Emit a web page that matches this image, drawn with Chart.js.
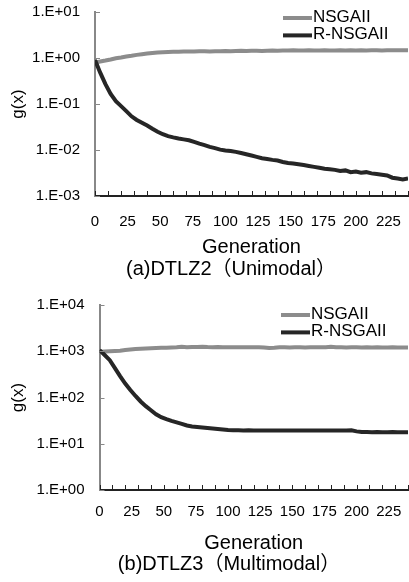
<!DOCTYPE html>
<html lang="en">
<head>
<meta charset="UTF-8">
<title>g(x) vs Generation</title>
<script src="https://cdn.jsdelivr.net/npm/chart.js"></script>
<style>
    body {
        margin: 0;
        background: #fff;
        font-family: 'Liberation Sans', Arial, 'Noto Sans CJK JP', sans-serif;
    }
    .panel {
        position: relative;
        width: 409px;
    }
    .panel canvas {
        display: block;
    }
    .caption {
        position: absolute;
        left: 0;
        text-align: center;
        font-size: 20px;
        line-height: 24px;
        color: #000;
        white-space: nowrap;
    }
</style>
</head>
<body>

<div class="panel" style="height:290px">
    <canvas id="chartA" width="409" height="290"></canvas>
    <div class="caption" style="top:256px;width:462px">(a)DTLZ2（Unimodal）</div>
</div>
<div class="panel" style="height:292px">
    <canvas id="chartB" width="409" height="292"></canvas>
    <div class="caption" style="top:261px;width:458px">(b)DTLZ3（Multimodal）</div>
</div>

<script>
// generations sampled from the plot
const gens = [0, 4, 8, 12, 16, 20, 24, 28, 32, 36,
              40, 44, 48, 52, 56, 60, 64, 68, 72, 76,
              80, 84, 88, 92, 96, 100, 104, 108, 112, 116,
              120, 124, 128, 132, 136, 140, 144, 148, 152, 156,
              160, 164, 168, 172, 176, 180, 184, 188, 192, 196,
              200, 204, 208, 212, 216, 220, 224, 228, 232, 236,
              240];

// (a) DTLZ2
const nsgaA = [0.80, 0.84, 0.88, 0.93, 0.99, 1.03, 1.08, 1.12, 1.17, 1.21,
               1.25, 1.29, 1.32, 1.34, 1.35, 1.36, 1.37, 1.38, 1.39, 1.38,
               1.40, 1.40, 1.39, 1.41, 1.41, 1.42, 1.40, 1.42, 1.43, 1.42,
               1.43, 1.44, 1.42, 1.44, 1.45, 1.44, 1.46, 1.45, 1.47, 1.45,
               1.46, 1.47, 1.45, 1.46, 1.47, 1.46, 1.45, 1.47, 1.46, 1.47,
               1.46, 1.48, 1.46, 1.47, 1.48, 1.46, 1.47, 1.48, 1.47, 1.48,
               1.47];
const rnsgaA = [0.91, 0.48, 0.27, 0.165, 0.115, 0.090, 0.070, 0.054, 0.045, 0.039,
                0.034, 0.029, 0.025, 0.022, 0.020, 0.0188, 0.0178, 0.0170, 0.0163, 0.0150,
                0.0138, 0.0128, 0.0117, 0.0110, 0.0102, 0.0098, 0.0095, 0.0091, 0.0086, 0.0081,
                0.0076, 0.0071, 0.0066, 0.0064, 0.0061, 0.0059, 0.0055, 0.0052, 0.0051, 0.0049,
                0.0047, 0.0045, 0.0043, 0.0041, 0.0039, 0.0038, 0.0037, 0.0035, 0.0036, 0.0033,
                0.0034, 0.0032, 0.0033, 0.0031, 0.0030, 0.0029, 0.0028, 0.0025, 0.0024, 0.0023,
                0.0024];

// (b) DTLZ3
const nsgaB = [980, 985, 995, 1010, 1030, 1060, 1090, 1115, 1130, 1145,
               1160, 1170, 1185, 1195, 1205, 1215, 1245, 1225, 1230, 1235,
               1250, 1230, 1225, 1230, 1220, 1225, 1220, 1225, 1215, 1220,
               1215, 1220, 1210, 1180, 1190, 1215, 1220, 1210, 1215, 1220,
               1210, 1215, 1220, 1215, 1225, 1245, 1220, 1215, 1210, 1215,
               1220, 1210, 1215, 1210, 1215, 1205, 1210, 1215, 1210, 1205,
               1200];
const rnsgaB = [1060, 830, 640, 430, 290, 200, 145, 108, 82, 65,
                53, 43.5, 37.5, 34, 31.2, 29, 27, 24.8, 23.7, 23.1,
                22.5, 21.9, 21.4, 20.8, 20.3, 19.8, 19.6, 19.5, 19.4, 19.5,
                19.4, 19.3, 19.4, 19.3, 19.4, 19.3, 19.4, 19.3, 19.3, 19.4,
                19.3, 19.4, 19.3, 19.3, 19.4, 19.3, 19.3, 19.4, 19.3, 19.5,
                18.5, 17.9, 17.9, 17.8, 17.9, 17.8, 17.8, 17.9, 17.8, 17.8,
                17.8];

// axis ticks and labels
const xLabelTicks = [0, 25, 50, 75, 100, 125, 150, 175, 200, 225];
const xMinorTicks = [0, 10, 20, 30, 40, 50, 60, 70, 80, 90, 100, 110, 120,
                     130, 140, 150, 160, 170, 180, 190, 200, 210, 220, 230, 240];
const yTicksA = [0.001, 0.01, 0.1, 1, 10];
const yLabelsA = ['1.E-03', '1.E-02', '1.E-01', '1.E+00', '1.E+01'];
const yTicksB = [1, 10, 100, 1000, 10000];
const yLabelsB = ['1.E+00', '1.E+01', '1.E+02', '1.E+03', '1.E+04'];

Chart.defaults.font.family = "'Liberation Sans', Arial, sans-serif";
Chart.defaults.color = '#000';

// inside tick marks + legend in the top right corner
const axisMarks = {
    id: 'axisMarks',
    afterDraw(chart, args, opts) {
        const { ctx, chartArea, scales } = chart;
        ctx.save();
        ctx.lineWidth = 1;
        ctx.strokeStyle = '#222';
        xMinorTicks.forEach(v => {
            const px = Math.round(scales.x.getPixelForValue(v)) + 0.5;
            ctx.beginPath();
            ctx.moveTo(px, chartArea.bottom);
            ctx.lineTo(px, chartArea.bottom - 5);
            ctx.stroke();
        });
        ctx.strokeStyle = '#888';
        opts.yTicks.forEach(v => {
            const py = Math.round(scales.y.getPixelForValue(v)) + 0.5;
            ctx.beginPath();
            ctx.moveTo(chartArea.left, py);
            ctx.lineTo(chartArea.left + 5, py);
            ctx.stroke();
        });

        const lx = chartArea.right + opts.legendDx;
        let ly = chartArea.top + opts.legendDy;
        ctx.font = "17px 'Liberation Sans', Arial, sans-serif";
        ctx.textBaseline = 'middle';
        chart.data.datasets.forEach(ds => {
            ctx.strokeStyle = ds.borderColor;
            ctx.lineWidth = 4;
            ctx.beginPath();
            ctx.moveTo(lx, ly);
            ctx.lineTo(lx + 29, ly);
            ctx.stroke();
            ctx.fillStyle = '#000';
            ctx.fillText(ds.label, lx + 30, ly - 1);
            ly += 17.4;
        });
        ctx.restore();
    }
};

function makeChart(id, cfg) {
    return new Chart(document.getElementById(id), {
        type: 'line',
        data: {
            datasets: [
                {
                    label: 'NSGAII',
                    data: gens.map((g, i) => ({ x: g, y: cfg.nsga[i] })),
                    borderColor: '#8c8c8c',
                    borderWidth: 4,
                    pointRadius: 0,
                    order: 1
                },
                {
                    label: 'R-NSGAII',
                    data: gens.map((g, i) => ({ x: g, y: cfg.rnsga[i] })),
                    borderColor: '#262626',
                    borderWidth: 4,
                    pointRadius: 0,
                    order: 0
                }
            ]
        },
        options: {
            responsive: false,
            animation: false,
            layout: { padding: cfg.padding, autoPadding: false },
            scales: {
                x: {
                    type: 'linear',
                    min: 0,
                    max: 240,
                    afterBuildTicks: s => { s.ticks = xLabelTicks.map(v => ({ value: v })); },
                    afterFit: s => {
                        s.height = cfg.xHeight;
                        s.paddingLeft = 0;
                        s.paddingRight = 0;
                    },
                    grid: { display: false, drawTicks: false },
                    border: { color: '#222', width: 2 },
                    ticks: {
                        autoSkip: false,
                        maxRotation: 0,
                        padding: cfg.xPad,
                        font: { size: 15 },
                        callback: v => String(v)
                    },
                    title: {
                        display: true,
                        text: 'Generation',
                        font: { size: 20 },
                        padding: { top: 0, bottom: 0 }
                    }
                },
                y: {
                    type: 'logarithmic',
                    min: cfg.yTicks[0],
                    max: cfg.yTicks[cfg.yTicks.length - 1],
                    afterBuildTicks: s => { s.ticks = cfg.yTicks.map(v => ({ value: v })); },
                    afterFit: s => {
                        s.width = cfg.yWidth;
                        s.paddingTop = 0;
                        s.paddingBottom = 0;
                    },
                    grid: { display: false, drawTicks: false },
                    border: { color: '#888', width: 2 },
                    ticks: {
                        padding: 15,
                        font: { size: 15 },
                        callback: v => cfg.yLabels[cfg.yTicks.indexOf(v)]
                    },
                    title: {
                        display: true,
                        text: 'g(x)',
                        font: { size: 17 },
                        padding: { top: 8, bottom: 0 }
                    }
                }
            },
            plugins: {
                legend: { display: false },
                tooltip: { enabled: false },
                axisMarks: { yTicks: cfg.yTicks, legendDx: cfg.legendDx, legendDy: cfg.legendDy }
            }
        },
        plugins: [axisMarks]
    });
}

makeChart('chartA', {
    nsga: nsgaA, rnsga: rnsgaA,
    yTicks: yTicksA, yLabels: yLabelsA,
    yWidth: 95, xPad: 17, xHeight: 63,
    padding: { top: 12, right: 1, bottom: 31, left: 0 },
    legendDx: -125, legendDy: 6
});

makeChart('chartB', {
    nsga: nsgaB, rnsga: rnsgaB,
    yTicks: yTicksB, yLabels: yLabelsB,
    yWidth: 99.5, xPad: 13, xHeight: 65,
    padding: { top: 15, right: 1, bottom: 27, left: 0 },
    legendDx: -127, legendDy: 10
});
</script>

</body>
</html>
